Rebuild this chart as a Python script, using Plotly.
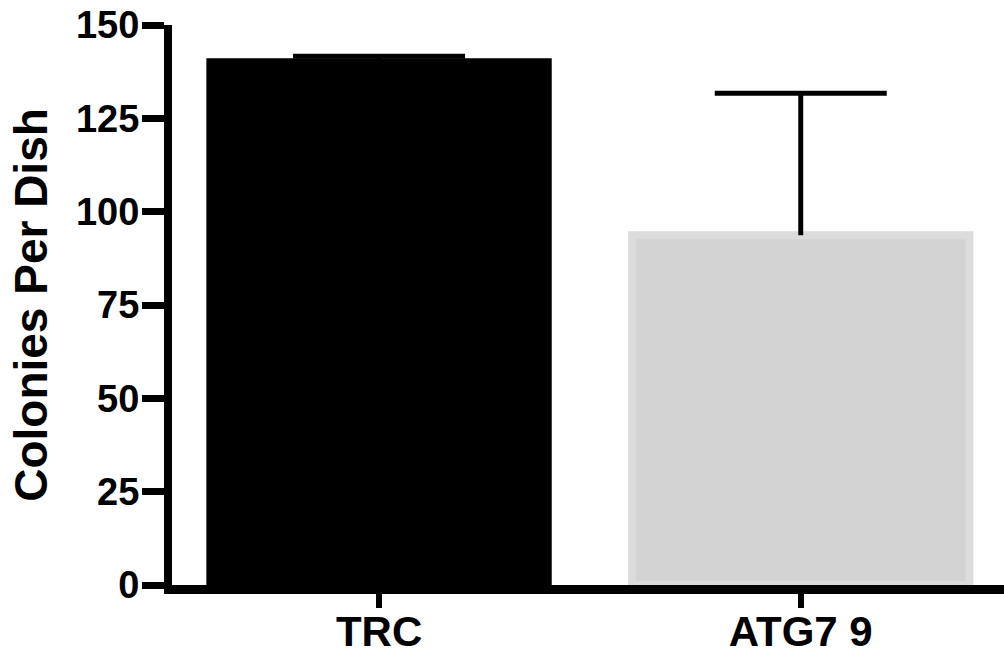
import plotly.graph_objects as go

categories = ["TRC", "ATG7 9"]
means = [140.0, 93.7]
errors_up = [1.6, 38.0]
bar_fill = ["#000000", "#d3d3d3"]
bar_edge = ["#000000", "#dcdcdc"]
y_ticks = [0, 25, 50, 75, 100, 125, 150]

font_family = "Liberation Sans, Arial, sans-serif"

tops = [m + e for m, e in zip(means, errors_up)]

fig = go.Figure()
# bars with the upward stem of the error bar (no caps)
fig.add_trace(go.Bar(
    x=categories,
    y=means,
    width=0.8,
    marker=dict(color=bar_fill, line=dict(color=bar_edge, width=8)),
    error_y=dict(type="data", array=errors_up, symmetric=False,
                 arrayminus=[0, 0], color="#000000", thickness=5, width=0),
    showlegend=False,
    hoverinfo="skip",
))
# upper caps only
fig.add_trace(go.Scatter(
    x=categories,
    y=tops,
    mode="markers",
    marker=dict(size=1, opacity=0),
    error_y=dict(type="data", array=[0, 0], symmetric=True,
                 color="#000000", thickness=5, width=86),
    showlegend=False,
    hoverinfo="skip",
))

fig.update_layout(
    template="none",
    width=1004, height=658,
    margin=dict(l=172, r=0, t=25, b=73, pad=0),
    paper_bgcolor="white", plot_bgcolor="white",
    font=dict(family=font_family, color="black"),
)
fig.update_xaxes(
    type="category", range=[-0.491, 1.482], automargin=False,
    showline=True, linecolor="black", linewidth=9,
    ticks="outside", ticklen=14, tickwidth=6, tickcolor="black",
    tickfont=dict(size=42, family=font_family, weight="bold"),
    ticklabelstandoff=-12,
    showgrid=False, zeroline=False,
)
fig.update_yaxes(
    range=[0, 150], tickvals=y_ticks, automargin=False,
    showline=True, linecolor="black", linewidth=8,
    ticks="outside", ticklen=22, tickwidth=7, tickcolor="black",
    tickfont=dict(size=38, family=font_family, weight="bold"),
    ticklabelstandoff=-5,
    title=dict(text="Colonies Per Dish", standoff=17,
               font=dict(size=46, family=font_family, weight="bold")),
    showgrid=False, zeroline=False,
)

fig.write_html(
    "out.html",
    config={"displayModeBar": False},
    post_script="document.body.style.margin='0';document.body.style.overflow='hidden';",
)
